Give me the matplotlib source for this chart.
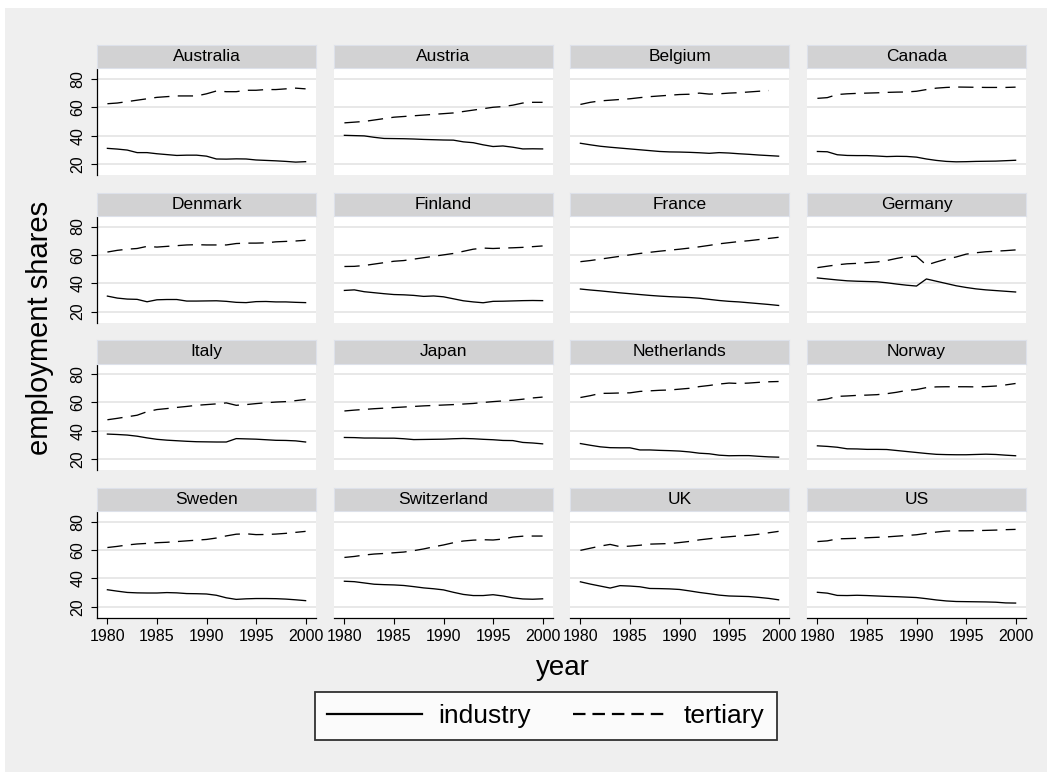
import numpy as np
import matplotlib.pyplot as plt
from matplotlib.patches import Rectangle
from matplotlib.lines import Line2D

plt.rcParams['font.family'] = ['Liberation Sans', 'DejaVu Sans']
plt.rcParams['lines.scale_dashes'] = False

years = list(range(1980, 2001))
countries = ['Australia', 'Austria', 'Belgium', 'Canada',
             'Denmark', 'Finland', 'France', 'Germany',
             'Italy', 'Japan', 'Netherlands', 'Norway',
             'Sweden', 'Switzerland', 'UK', 'US']

# employment shares, industry (solid) and tertiary (dashed), 1980-2000
australia_ind = [31, 30.5, 29.8, 28, 28, 27.2, 26.6, 26, 26.2, 26.2, 25.5, 23.5, 23.4, 23.6, 23.5, 22.8, 22.5, 22.2, 21.8, 21.3, 21.6]
australia_ter = [62.5, 63, 64, 65, 66, 67, 67.5, 68, 68, 68, 69.5, 71.5, 71, 71, 72, 72, 72.5, 72.5, 73, 73.5, 73]
austria_ind = [40.2, 40, 39.8, 38.8, 38, 37.9, 37.8, 37.6, 37.3, 37.1, 36.9, 36.8, 35.6, 35, 33.5, 32.3, 32.7, 31.8, 30.6, 30.7, 30.6]
austria_ter = [49, 49.5, 50, 51, 52, 53, 53.5, 54, 54.5, 55, 55.5, 56, 57, 58, 59, 60, 60.5, 61.5, 63, 63.5, 63.5]
belgium_ind = [34.6, 33.5, 32.5, 31.8, 31.2, 30.6, 30, 29.4, 28.8, 28.5, 28.4, 28.2, 27.9, 27.5, 28, 27.7, 27.2, 26.8, 26.3, 25.9, 25.5]
belgium_ter = [62, 63.5, 64.5, 65, 65.5, 66, 66.8, 67.5, 68, 68.5, 69, 69.2, 70, 69.3, 69.5, 70, 70.3, 70.8, 71.3, 71.8, np.nan]
canada_ind = [28.8, 28.6, 26.5, 26, 25.9, 25.9, 25.6, 25.2, 25.4, 25.3, 24.8, 23.5, 22.5, 21.8, 21.5, 21.6, 21.8, 21.9, 22, 22.3, 22.6]
canada_ter = [66.3, 66.8, 69, 69.5, 69.8, 70, 70.2, 70.5, 70.7, 70.8, 71.3, 72.5, 73.5, 74, 74.3, 74.2, 74.1, 74, 74, 74, 74.2]
denmark_ind = [30.9, 29.5, 28.8, 28.6, 26.9, 28.3, 28.5, 28.5, 27.4, 27.4, 27.5, 27.6, 27.2, 26.5, 26.3, 27, 27.1, 26.8, 26.8, 26.5, 26.3]
denmark_ter = [62, 63.2, 64, 64.5, 66, 65.5, 66, 66.5, 67, 67.2, 67, 67, 67, 68, 68.3, 68.3, 68.5, 69.2, 69.5, 69.8, 70.3]
finland_ind = [34.9, 35.3, 34, 33.3, 32.6, 32, 31.8, 31.4, 30.7, 31, 30.4, 29, 27.6, 26.8, 26.2, 27.2, 27.3, 27.5, 27.7, 27.8, 27.7]
finland_ter = [51.8, 51.9, 52.5, 53.5, 54.5, 55.5, 56, 57, 58, 59, 60, 61, 62.5, 64, 64.8, 64.5, 64.8, 65, 65.3, 65.8, 66.3]
france_ind = [35.9, 35.2, 34.6, 33.9, 33.2, 32.6, 32, 31.4, 30.9, 30.5, 30.2, 29.9, 29.4, 28.6, 27.8, 27.2, 26.8, 26.2, 25.6, 25, 24.3]
france_ter = [55.2, 56, 57, 58, 59, 60, 61, 61.8, 62.6, 63.3, 64, 64.8, 65.7, 66.7, 67.8, 68.6, 69.4, 70, 70.8, 71.6, 72.4]
germany_ind = [43.7, 43, 42.3, 41.7, 41.4, 41.2, 41, 40.3, 39.4, 38.6, 38, 43, 41.4, 39.8, 38.2, 37, 36, 35.3, 34.8, 34.3, 33.8]
germany_ter = [51, 52, 53, 53.7, 54, 54.5, 55, 56, 57.5, 58.8, 59, 52.8, 55, 57, 58.5, 60.5, 61.5, 62.2, 62.6, 63, 63.5]
italy_ind = [37.7, 37.4, 37, 36.2, 35, 34, 33.4, 33, 32.6, 32.3, 32.2, 32.1, 32.1, 34.5, 34.3, 34.1, 33.7, 33.3, 33.2, 32.9, 32.1]
italy_ter = [47.8, 48.8, 49.9, 51, 53.5, 55, 55.7, 56.5, 57.2, 58, 58.5, 59, 59.7, 58, 58.5, 59.2, 59.8, 60.3, 60.6, 61.3, 62.1]
japan_ind = [35.3, 35.2, 34.9, 34.9, 34.8, 34.8, 34.4, 33.8, 33.9, 34, 34.1, 34.4, 34.6, 34.4, 34, 33.7, 33.2, 33.1, 31.8, 31.4, 30.8]
japan_ter = [54, 54.6, 55.1, 55.6, 56, 56.4, 56.8, 57.2, 57.6, 57.9, 58.2, 58.5, 58.9, 59.3, 60, 60.6, 61.1, 61.6, 62.3, 63.2, 63.8]
netherlands_ind = [31, 29.8, 28.7, 28.1, 28, 28, 26.5, 26.5, 26.2, 26, 25.7, 25.1, 24.2, 23.8, 22.8, 22.4, 22.5, 22.5, 22, 21.6, 21.4]
netherlands_ter = [63.5, 64.8, 66.4, 66.5, 66.7, 66.8, 67.8, 68.2, 68.6, 68.8, 69.4, 70, 71.2, 72, 73, 73.7, 73.4, 73.7, 74.2, 74.6, 74.8]
norway_ind = [29.4, 29, 28.4, 27.3, 27.2, 26.9, 26.9, 26.8, 26.1, 25.4, 24.7, 24, 23.4, 23.2, 23.1, 23.1, 23.3, 23.5, 23.3, 22.8, 22.4]
norway_ter = [61.6, 62.5, 64.3, 64.6, 65, 65.2, 65.5, 66.2, 67.2, 68.5, 69.1, 70.5, 71, 71.1, 71.1, 71.1, 71, 71.2, 71.6, 72.4, 73.4]
sweden_ind = [32, 31, 30.1, 29.8, 29.7, 29.7, 30, 29.8, 29.3, 29.2, 29, 28.1, 26.3, 25.2, 25.6, 25.8, 25.8, 25.7, 25.4, 24.9, 24.3]
sweden_ter = [61.8, 62.6, 63.6, 64.3, 64.7, 65.2, 65.5, 66, 66.5, 67, 67.5, 68.5, 70, 71.2, 71.5, 70.9, 71, 71.3, 71.8, 72.5, 73.2]
switzerland_ind = [38, 37.7, 36.8, 35.9, 35.6, 35.4, 35, 34.2, 33.3, 32.7, 31.9, 30.2, 28.7, 27.9, 27.9, 28.5, 27.6, 26.3, 25.5, 25.3, 25.6]
switzerland_ter = [54.8, 55.5, 56.5, 57.2, 57.6, 58.1, 58.6, 59.6, 60.8, 62.3, 63.6, 65.2, 66.4, 67, 67.3, 67.1, 67.8, 69.2, 69.8, 69.9, 69.9]
uk_ind = [37.6, 36, 34.6, 33.2, 34.9, 34.6, 34.1, 32.9, 32.8, 32.6, 32.2, 31.2, 30.1, 29.2, 28.2, 27.6, 27.4, 27.2, 26.6, 25.9, 24.9]
uk_ter = [59.8, 61.3, 62.8, 64, 62.4, 62.8, 63.4, 64.2, 64.4, 64.6, 65.3, 66.1, 67.2, 68, 68.8, 69.4, 70, 70.4, 71.2, 72.2, 73.2]
us_ind = [30.2, 29.6, 28, 27.9, 28.1, 27.9, 27.6, 27.3, 27.1, 26.8, 26.5, 25.7, 24.8, 24.1, 23.7, 23.6, 23.5, 23.4, 23.2, 22.7, 22.6]
us_ter = [66, 66.5, 67.9, 68.1, 68.3, 68.7, 69, 69.3, 69.8, 70.3, 70.8, 71.8, 72.7, 73.4, 73.6, 73.6, 73.7, 73.9, 74.1, 74.4, 74.6]

industry = [australia_ind, austria_ind, belgium_ind, canada_ind,
            denmark_ind, finland_ind, france_ind, germany_ind,
            italy_ind, japan_ind, netherlands_ind, norway_ind,
            sweden_ind, switzerland_ind, uk_ind, us_ind]
tertiary = [australia_ter, austria_ter, belgium_ter, canada_ter,
            denmark_ter, finland_ter, france_ter, germany_ter,
            italy_ter, japan_ter, netherlands_ter, norway_ter,
            sweden_ter, switzerland_ter, uk_ter, us_ter]

W, H = 1051, 773
fig = plt.figure(figsize=(W / 100, H / 100), dpi=100, facecolor='white')

def box(x0, y0, w, h):
    # pixel box (top-left origin) -> figure fraction
    return [x0 / W, 1 - (y0 + h) / H, w / W, h / H]

bg = '#efefef'
fig.patches.append(Rectangle((5 / W, 1 - 772 / H), 1042 / W, 764 / H,
                             transform=fig.transFigure, facecolor=bg,
                             edgecolor='none', zorder=-10))

col_x = [97, 334, 570, 807]
pw = 219
ph = 105.7
dash = (0, (11, 6))

for i, name in enumerate(countries):
    r, c = divmod(i, 4)
    top = 69.3 + r * 147.6
    ax = fig.add_axes(box(col_x[c], top, pw, ph))
    ax.set_facecolor('white')
    ax.plot(years, industry[i], color='black', lw=0.95)
    ax.plot(years, tertiary[i], color='black', lw=0.95, linestyle=dash)
    ax.set_xlim(1978.95, 2001.05)
    ax.set_ylim(12.2, 86.8)
    ax.set_yticks([20, 40, 60, 80])
    ax.set_xticks([1980, 1985, 1990, 1995, 2000])
    ax.grid(axis='y', color='#e4e4e4', lw=1.2)
    ax.set_axisbelow(True)
    for s in ax.spines.values():
        s.set_visible(False)
    ax.tick_params(direction='out', length=4.5, width=0.8, colors='black', labelsize=11.5)
    if c == 0:
        ax.spines['left'].set_visible(True)
        ax.spines['left'].set_linewidth(0.9)
        ax.tick_params(axis='y', pad=4)
        for lab in ax.get_yticklabels():
            lab.set_rotation(90)
            lab.set_va('center')
    else:
        ax.tick_params(axis='y', left=False, labelleft=False)
    if r == 3:
        ax.spines['bottom'].set_visible(True)
        ax.spines['bottom'].set_linewidth(0.9)
    else:
        ax.tick_params(axis='x', bottom=False, labelbottom=False)

    # strip title
    sax = fig.add_axes(box(col_x[c], 45 + r * 147.6, pw, 23.3))
    sax.set_facecolor('#d2d2d3')
    sax.set_xticks([])
    sax.set_yticks([])
    for s in sax.spines.values():
        s.set_color('#dde1ea')
        s.set_linewidth(0.8)
    sax.text(0.5, 0.5, name, ha='center', va='center', fontsize=12.5, transform=sax.transAxes)

fig.text(40 / W, 1 - 328 / H, 'employment shares', rotation=90,
         ha='center', va='center', fontsize=21)
fig.text(563 / W, 1 - 668 / H, 'year', ha='center', va='center', fontsize=20)

handles = [Line2D([], [], color='black', lw=1.6),
           Line2D([], [], color='black', lw=1.6, linestyle=(0, (9, 5)))]
leg = fig.legend(handles, ['industry', 'tertiary'], loc='center',
                 bbox_to_anchor=(546 / W, 1 - 716 / H), ncol=2, fontsize=19,
                 handlelength=3.6, columnspacing=1.6, handletextpad=0.6,
                 frameon=True, fancybox=False, borderpad=0.45)
leg.get_frame().set_edgecolor('black')
leg.get_frame().set_linewidth(1.3)
leg.get_frame().set_facecolor('white')

fig.savefig('out.png', dpi=100, facecolor='white')
